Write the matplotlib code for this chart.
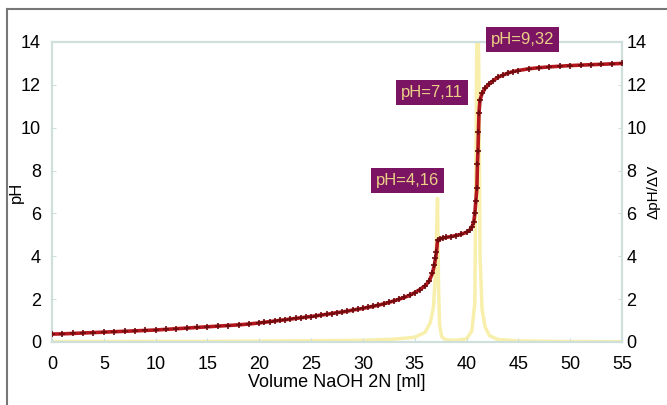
import numpy as np
import matplotlib
matplotlib.use("Agg")
import matplotlib.pyplot as plt
from matplotlib.lines import Line2D

plt.rcParams['font.family'] = ['Liberation Sans', 'DejaVu Sans']

# titration curve (pH vs volume)
volume = [0, 1, 2, 3, 4, 5, 6, 7, 8, 9, 10, 11, 12, 13, 14, 15, 16, 17, 18, 19, 20,
          20.5, 21, 21.5, 22, 22.5, 23, 23.5, 24, 24.5, 25, 25.5, 26, 26.5, 27, 27.5,
          28, 28.5, 29, 29.5, 30, 30.5, 31, 31.5, 32, 32.5, 33, 33.5, 34, 34.5, 35,
          35.5, 36, 36.4, 36.7, 36.9, 37.0, 37.1, 37.2, 37.4, 37.7, 38, 38.5, 39,
          39.5, 40, 40.3, 40.5, 40.7, 40.8, 40.9, 41.0, 41.05, 41.1, 41.15, 41.2,
          41.3, 41.5, 41.8, 42.2, 42.6, 43, 43.5, 44, 44.5, 45, 46, 47, 48, 49, 50,
          51, 52, 53, 54, 55]
ph = [0.37, 0.38, 0.40, 0.42, 0.44, 0.46, 0.48, 0.50, 0.52, 0.54, 0.56, 0.59, 0.62,
      0.65, 0.68, 0.71, 0.74, 0.77, 0.80, 0.84, 0.89,
      0.92, 0.95, 0.98, 1.01, 1.04, 1.07, 1.10, 1.13, 1.16, 1.19, 1.22, 1.26, 1.29,
      1.33, 1.37, 1.40, 1.44, 1.49, 1.53, 1.57, 1.62, 1.67, 1.72, 1.78, 1.85, 1.92,
      2.00, 2.08, 2.18, 2.30, 2.45, 2.62, 2.85, 3.2, 3.6, 3.9, 4.2, 4.75, 4.8, 4.85,
      4.88, 4.92, 4.97, 5.03, 5.12, 5.22, 5.35, 5.6, 6.0, 6.6, 7.2, 8.3, 8.9, 9.8,
      10.7, 11.3, 11.6, 11.85, 12.05, 12.2, 12.35, 12.45, 12.55, 12.62, 12.67,
      12.75, 12.8, 12.84, 12.87, 12.9, 12.92, 12.94, 12.96, 12.98, 13.0]

# first derivative dpH/dV
dv_x = [0, 5, 10, 15, 20, 25, 30, 33, 35, 36, 36.5, 36.8, 37.0, 37.1, 37.2, 37.3,
        37.4, 37.6, 38, 39, 40, 40.5, 40.8, 40.9, 41.0, 41.1, 41.2, 41.3, 41.5, 41.8,
        42.2, 43, 45, 50, 55]
dv_y = [0.02, 0.02, 0.03, 0.03, 0.04, 0.06, 0.08, 0.13, 0.22, 0.45, 0.9, 1.6, 3.2,
        5.0, 6.7, 2.5, 0.8, 0.25, 0.1, 0.08, 0.15, 0.5, 1.8, 8.0, 15.0, 15.5, 12.0,
        4.0, 1.5, 0.7, 0.3, 0.12, 0.05, 0.02, 0.01]

labels = ["pH=4,16", "pH=7,11", "pH=9,32"]
label_x = [34.3, 36.7, 45.4]
label_y = [7.55, 11.65, 14.1]

fig = plt.figure(figsize=(6.67, 4.05), dpi=100)
ax = fig.add_axes([52 / 667, 63 / 405, 570 / 667, 300 / 405])
ax2 = ax.twinx()

frame = '#cfdfdc'
for a in (ax, ax2):
    for s in a.spines.values():
        s.set_color(frame)
        s.set_linewidth(1.5)

ax2.plot(dv_x, dv_y, color='#f5ec96', lw=2.5, alpha=0.8, zorder=1)
ax.set_zorder(ax2.get_zorder() + 1)
ax.patch.set_visible(False)
ax.plot(volume, ph, color='#b3161c', lw=2.6, marker='+', ms=4.5, mew=1.2,
        mec='#6e0a0e', zorder=3)

for t, x, y in zip(labels, label_x, label_y):
    ax.text(x, y, t, fontsize=12, color='#eccf86', ha='center', va='center',
            bbox=dict(boxstyle='square,pad=0.3', fc='#7b1463', ec='none'),
            zorder=5, clip_on=False)

ax.set_xlim(0, 55)
ax.set_ylim(0, 14)
ax2.set_ylim(0, 14)
ax.set_xticks(range(0, 56, 5))
ax.set_yticks(range(0, 15, 2))
ax2.set_yticks(range(0, 15, 2))
ax.tick_params(axis='x', labelsize=13, direction='in', length=3, color=frame, pad=10)
ax.tick_params(axis='y', labelsize=13, direction='in', length=3, color=frame, pad=8)
ax2.tick_params(labelsize=13, direction='in', length=3, color=frame, pad=3)

ax.set_xlabel("Volume NaOH 2N [ml]", fontsize=13, labelpad=1)
ax.set_ylabel("pH", fontsize=12, labelpad=-2)
ax2.set_ylabel("ΔpH/ΔV", fontsize=11, labelpad=0)

# outer frame lines at top and left
fig.add_artist(Line2D([7 / 667, 1], [1 - 9 / 405, 1 - 9 / 405], color='#777777', lw=1.5))
fig.add_artist(Line2D([7 / 667, 7 / 667], [0, 1 - 9 / 405], color='#777777', lw=1.5))

fig.savefig("out.png", dpi=100)
